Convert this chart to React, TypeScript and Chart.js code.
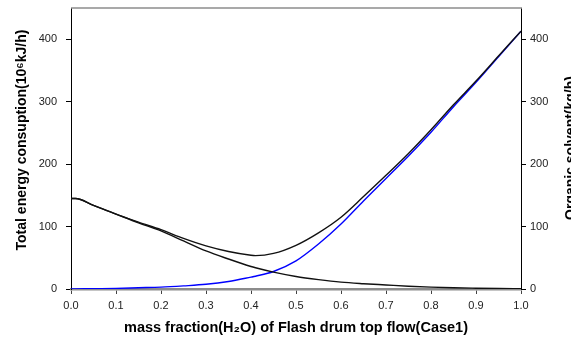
import { useEffect, useRef } from "react";
import { Chart, registerables } from "chart.js";

Chart.register(...registerables);

const xValues = [0, 0.01, 0.05, 0.1, 0.15, 0.2, 0.25, 0.3, 0.35, 0.4, 0.41, 0.45, 0.5, 0.55, 0.6, 0.65, 0.7, 0.75, 0.8, 0.85, 0.9, 0.95, 1.0];
const totalEnergy = [145, 145, 134, 120, 107, 95, 81, 69, 60, 54, 53.5, 57, 70, 90, 115, 148, 182, 217, 255, 295, 333, 373, 413];
const energyPart = [145, 145, 134, 120, 106, 93, 77, 61, 48, 36, 34, 27, 20, 15, 11, 8.5, 6.5, 4.5, 3, 2, 1.3, 0.7, 0.3];
const organicSolvent = [0, 0.1, 0.5, 1, 2, 3, 5, 7.5, 12, 19, 20.5, 28, 45, 72, 104, 141, 177, 213, 251, 292, 331, 372, 413];
const xTicks = [0, 0.1, 0.2, 0.3, 0.4, 0.5, 0.6, 0.7, 0.8, 0.9, 1.0];
const yTicks = [0, 100, 200, 300, 400];

const xTitle = "mass fraction(H\u2082O) of Flash drum top flow(Case1)";
const leftTitle = "Total energy consuption(10\u2076kJ/h)";
const rightTitle = "Organic solvent(kg/h)";

const FONT = '"Liberation Sans", Arial, sans-serif';

const toPoints = (ys: number[]) => xValues.map((x, i) => ({ x, y: ys[i] }));

const customPlugin = {
  id: "customTitles",
  afterDraw(chart: any) {
    const ctx = chart.ctx;
    const { top, left, right } = chart.chartArea;
    ctx.save();
    ctx.strokeStyle = "#8c8c8c";
    ctx.lineWidth = 1.5;
    ctx.beginPath();
    ctx.moveTo(left, top);
    ctx.lineTo(right + 1, top);
    ctx.stroke();

    ctx.fillStyle = "#000";
    ctx.font = `bold 14px ${FONT}`;
    ctx.textAlign = "center";
    ctx.textBaseline = "middle";
    ctx.save();
    ctx.translate(22, 140);
    ctx.rotate(-Math.PI / 2);
    ctx.fillText(leftTitle, 0, 0);
    ctx.restore();
    ctx.save();
    ctx.translate(571, 148);
    ctx.rotate(-Math.PI / 2);
    ctx.fillText(rightTitle, 0, 0);
    ctx.restore();
    ctx.restore();
  },
};

export default function App() {
  const ref = useRef<HTMLCanvasElement>(null);
  useEffect(() => {
    if (!ref.current) return;
    const chart = new Chart(ref.current, {
      type: "line",
      data: {
        datasets: [
          {
            label: "Total energy",
            data: toPoints(totalEnergy),
            borderColor: "#111",
            borderWidth: 1.4,
            pointRadius: 0,
            cubicInterpolationMode: "monotone",
            yAxisID: "y",
          },
          {
            label: "Energy part",
            data: toPoints(energyPart),
            borderColor: "#111",
            borderWidth: 1.4,
            pointRadius: 0,
            cubicInterpolationMode: "monotone",
            yAxisID: "y",
          },
          {
            label: "Organic solvent",
            data: toPoints(organicSolvent),
            borderColor: "#0000ff",
            borderWidth: 1.4,
            pointRadius: 0,
            cubicInterpolationMode: "monotone",
            yAxisID: "y2",
          },
        ],
      },
      options: {
        animation: false,
        responsive: false,
        devicePixelRatio: 1,
        layout: { padding: { top: 8, left: 0, right: 0, bottom: 0 } },
        plugins: { legend: { display: false }, tooltip: { enabled: false } },
        scales: {
          x: {
            type: "linear",
            min: 0,
            max: 1,
            afterBuildTicks: (axis: any) => {
              axis.ticks = xTicks.map((v) => ({ value: v }));
            },
            afterFit: (scale: any) => {
              scale.height = 48;
              scale.paddingLeft = 0;
              scale.paddingRight = 0;
            },
            ticks: {
              callback: (v: any) => Number(v).toFixed(1),
              font: { size: 11, family: FONT },
              color: "#222",
              padding: 5,
              maxRotation: 0,
            },
            grid: { drawOnChartArea: false, tickLength: 5, color: "#444", tickWidth: 1 },
            border: { color: "#8c8c8c", width: 2.5 },
            title: {
              display: true,
              text: xTitle,
              font: { size: 14.5, weight: "bold", family: FONT },
              color: "#000",
              padding: { top: 0, bottom: 0 },
            },
          },
          y: {
            type: "linear",
            position: "left",
            min: 0,
            max: 450,
            afterBuildTicks: (axis: any) => {
              axis.ticks = yTicks.map((v) => ({ value: v }));
            },
            afterFit: (scale: any) => {
              scale.width = 71;
              scale.paddingTop = 0;
              scale.paddingBottom = 0;
            },
            ticks: { font: { size: 11, family: FONT }, color: "#222", padding: 9 },
            grid: { drawOnChartArea: false, tickLength: 5, color: "#000" },
            border: { color: "#000", width: 1 },
          },
          y2: {
            type: "linear",
            position: "right",
            min: 0,
            max: 450,
            afterBuildTicks: (axis: any) => {
              axis.ticks = yTicks.map((v) => ({ value: v }));
            },
            afterFit: (scale: any) => {
              scale.width = 50;
              scale.paddingTop = 0;
              scale.paddingBottom = 0;
            },
            ticks: { font: { size: 11, family: FONT }, color: "#222", padding: 4 },
            grid: { drawOnChartArea: false, tickLength: 5, color: "#000" },
            border: { color: "#000", width: 1 },
          },
        },
      },
      plugins: [customPlugin],
    } as any);
    return () => chart.destroy();
  }, []);
  return (
    <div style={{ position: "fixed", left: 0, top: 0, width: 571, height: 337, overflow: "hidden", background: "#fff" }}>
      <canvas ref={ref} width={571} height={337} style={{ display: "block" }} />
    </div>
  );
}
